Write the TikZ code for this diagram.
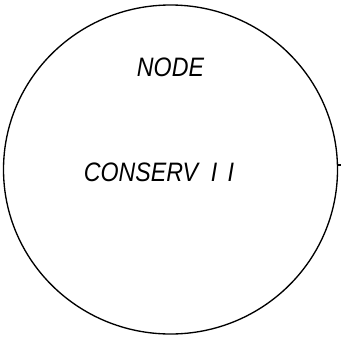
\documentclass[tikz,border=0pt]{standalone}
\usepackage{fontspec}
\setsansfont{Liberation Sans}
\usetikzlibrary{shapes.geometric}

\tikzset{
  nodelabel/.style={font=\fontsize{20}{24}\selectfont\sffamily\itshape, inner sep=0pt, xscale=0.87},
  ring/.style={draw, line width=1pt, ellipse, inner sep=0pt, minimum width=334*0.75pt, minimum height=329*0.75pt}
}

\begin{document}
\begin{tikzpicture}[x=0.75pt,y=0.75pt,yscale=-1,xscale=1]
\useasboundingbox (0,0) rectangle (341,336);

%Shape: Ellipse
\node [ring] (node) at (170.5,169.5) {};
%Straight Lines
\coordinate (stub) at (341,165);
\draw [line width=1pt] (node.east |- stub) -- (stub) ;

% Text Node
\node [nodelabel] (title) at (170.5,67.5) {NODE};
% Text Node
\node [nodelabel] (name) at (159,172) {CONSERV\hspace{0.55em}I\hspace{0.45em}I};

\end{tikzpicture}
\end{document}
